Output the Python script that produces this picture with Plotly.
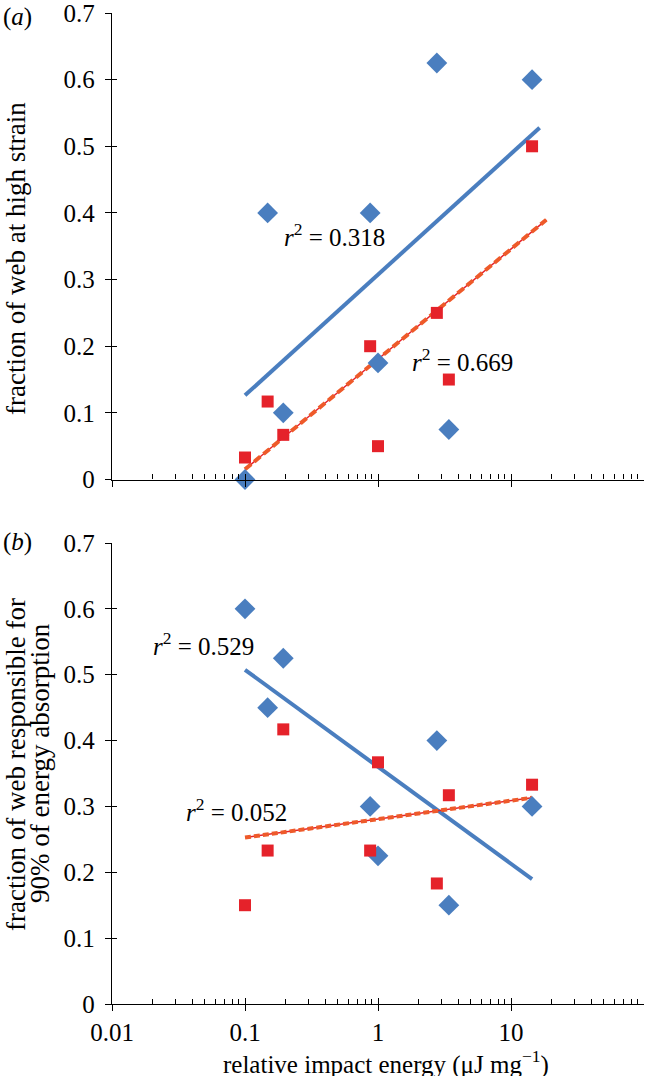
import numpy as np
import plotly.graph_objects as go

# ---- data ----
energy = [0.1, 0.148, 0.194, 0.873, 1.0, 2.77, 3.41, 14.4]
a_blue = [0.0, 0.4, 0.1, 0.4, 0.175, 0.625, 0.075, 0.6]
a_red = [0.033, 0.117, 0.067, 0.2, 0.05, 0.25, 0.15, 0.5]
b_blue = [0.6, 0.45, 0.525, 0.3, 0.225, 0.4, 0.15, 0.3]
b_red = [0.15, 0.233, 0.417, 0.233, 0.367, 0.183, 0.317, 0.333]
r2_labels = {"a_blue": "0.318", "a_red": "0.669", "b_blue": "0.529", "b_red": "0.052"}
xtick_vals = [0.01, 0.1, 1, 10]
xtick_text = ["0.01", "0.1", "1", "10"]
ytick_vals = [0, 0.1, 0.2, 0.3, 0.4, 0.5, 0.6, 0.7]
ytick_text = ["0", "0.1", "0.2", "0.3", "0.4", "0.5", "0.6", "0.7"]
minor_vals = [m * d for d in [0.01, 0.1, 1, 10] for m in range(2, 10)]

BLUE = "#4A7EBF"
RED = "#E5222A"
ORANGE = "#EE5A2A"
FONT = "Liberation Serif"
FS = 25

W, H = 645, 1076
L, T, B = 112, 13, 72
PW = W - L - 1
PH = H - T - B

fig = go.Figure()


def trend(x, y, ext):
    lx = np.log10(x)
    m, c = np.polyfit(lx, y, 1)
    xs = np.array([min(x), max(x) * ext])
    return xs, m * np.log10(xs) + c


def add_panel(yblue, yred, xa, ya, ext_b, ext_r, red_dash):
    xs, ys = trend(energy, yblue, ext_b)
    fig.add_trace(go.Scatter(x=xs, y=ys, mode="lines", xaxis=xa, yaxis=ya,
                             line=dict(color=BLUE, width=4), showlegend=False))
    xs, ys = trend(energy, yred, ext_r)
    fig.add_trace(go.Scatter(x=xs, y=ys, mode="lines", xaxis=xa, yaxis=ya,
                             line=dict(color=RED, width=1.5), showlegend=False))
    fig.add_trace(go.Scatter(x=xs, y=ys, mode="lines", xaxis=xa, yaxis=ya,
                             line=dict(color=ORANGE, width=4, dash=red_dash), showlegend=False))
    fig.add_trace(go.Scatter(x=energy, y=yblue, mode="markers", xaxis=xa, yaxis=ya,
                             marker=dict(symbol="diamond", size=16, color=BLUE),
                             cliponaxis=False, showlegend=False))
    fig.add_trace(go.Scatter(x=energy, y=yred, mode="markers", xaxis=xa, yaxis=ya,
                             marker=dict(symbol="square", size=12, color=RED),
                             cliponaxis=False, showlegend=False))


add_panel(a_blue, a_red, "x", "y", 1.14, 1.28, "8px,4px")
add_panel(b_blue, b_red, "x2", "y2", 1.0, 1.0, "6px,3px")

# empty traces so that the overlay axes (inner half of crossing ticks) are drawn
for xa, ya in [("x3", "y"), ("x", "y3"), ("x4", "y2"), ("x2", "y4")]:
    fig.add_trace(go.Scatter(x=[None], y=[None], xaxis=xa, yaxis=ya,
                             showlegend=False, hoverinfo="skip"))

tickfont = dict(family=FONT, size=FS, color="black")
x_common = dict(type="log", range=[-2, 2], showgrid=False, zeroline=False,
                showline=True, linecolor="black", linewidth=1.3,
                tickvals=xtick_vals, ticktext=xtick_text, ticks="outside",
                ticklen=6, tickwidth=1.3, tickcolor="black",
                minor=dict(ticks="inside", ticklen=5, tickwidth=1.1, tickcolor="black",
                           tickvals=minor_vals, showgrid=False),
                tickfont=tickfont, ticklabelstandoff=0, ticklabeloverflow="allow")
x_inner = dict(type="log", range=[-2, 2], showgrid=False, zeroline=False,
               showline=False, tickvals=xtick_vals, ticks="inside", ticklen=6,
               tickwidth=1.3, tickcolor="black", showticklabels=False)
y_common = dict(range=[0, 0.7], showgrid=False, zeroline=False, showline=True,
                linecolor="black", linewidth=1.3, ticks="outside", ticklen=6,
                tickwidth=1.3, tickcolor="black", tickvals=ytick_vals,
                ticktext=ytick_text, tickfont=tickfont, ticklabelstandoff=5,
                ticklabeloverflow="allow")
y_inner = dict(range=[0, 0.7], showgrid=False, zeroline=False, showline=False,
               ticks="inside", ticklen=5, tickwidth=1.3, tickcolor="black",
               tickvals=ytick_vals, showticklabels=False)

TOP_DOM = [(H - B - 479.5) / PH, 1.0]
BOT_DOM = [0.0, (H - B - 543) / PH]

fig.update_layout(
    width=W, height=H,
    margin=dict(l=L, r=1, t=T, b=B),
    plot_bgcolor="rgba(0,0,0,0)", paper_bgcolor="white",
    xaxis=dict(x_common, anchor="y", showticklabels=False),
    yaxis=dict(y_common, domain=TOP_DOM, anchor="x"),
    xaxis2=dict(x_common, anchor="y2"),
    yaxis2=dict(y_common, domain=BOT_DOM, anchor="x2"),
    xaxis3=dict(x_inner, overlaying="x", anchor="y"),
    yaxis3=dict(y_inner, overlaying="y", anchor="x"),
    xaxis4=dict(x_inner, overlaying="x2", anchor="y2"),
    yaxis4=dict(y_inner, overlaying="y2", anchor="x2"),
)


def px_x(px):
    return (px - L) / PW


def px_y(py):
    return (H - B - py) / PH


ann_font = dict(family=FONT, size=FS, color="black")
title_font = dict(family=FONT, size=27, color="black")


def paper_text(px, py, text, font, angle=0, xanchor="center"):
    fig.add_annotation(xref="paper", yref="paper", x=px_x(px), y=px_y(py),
                       xanchor=xanchor, yanchor="middle", text=text,
                       textangle=angle, showarrow=False, font=font)


# axis titles (as text annotations for exact placement)
paper_text(16, 259, "fraction of web at high strain", title_font, -90)
paper_text(16, 765, "fraction of web responsible for", title_font, -90)
paper_text(40, 763, "90% of energy absorption", title_font, -90)
paper_text(386, 1062, "relative impact energy (μJ mg<sup>−1</sup>)", ann_font)

annots = [
    ("x", "y", 0.47, 0.367, r2_labels["a_blue"]),
    ("x", "y", 4.3, 0.18, r2_labels["a_red"]),
    ("x2", "y2", 0.049, 0.547, r2_labels["b_blue"]),
    ("x2", "y2", 0.086, 0.294, r2_labels["b_red"]),
]
for xa, ya, xv, yv, txt in annots:
    fig.add_annotation(xref=xa, yref=ya, x=np.log10(xv), y=yv,
                       xanchor="center", yanchor="middle",
                       text="<i>r</i><sup>2</sup> = " + txt, showarrow=False,
                       font=ann_font)

paper_text(1, 17, "(<i>a</i>)", ann_font, xanchor="left")
paper_text(1, 542, "(<i>b</i>)", ann_font, xanchor="left")

fig.write_html("out.html", config={"displayModeBar": False},
               post_script="document.body.style.margin='0';")
